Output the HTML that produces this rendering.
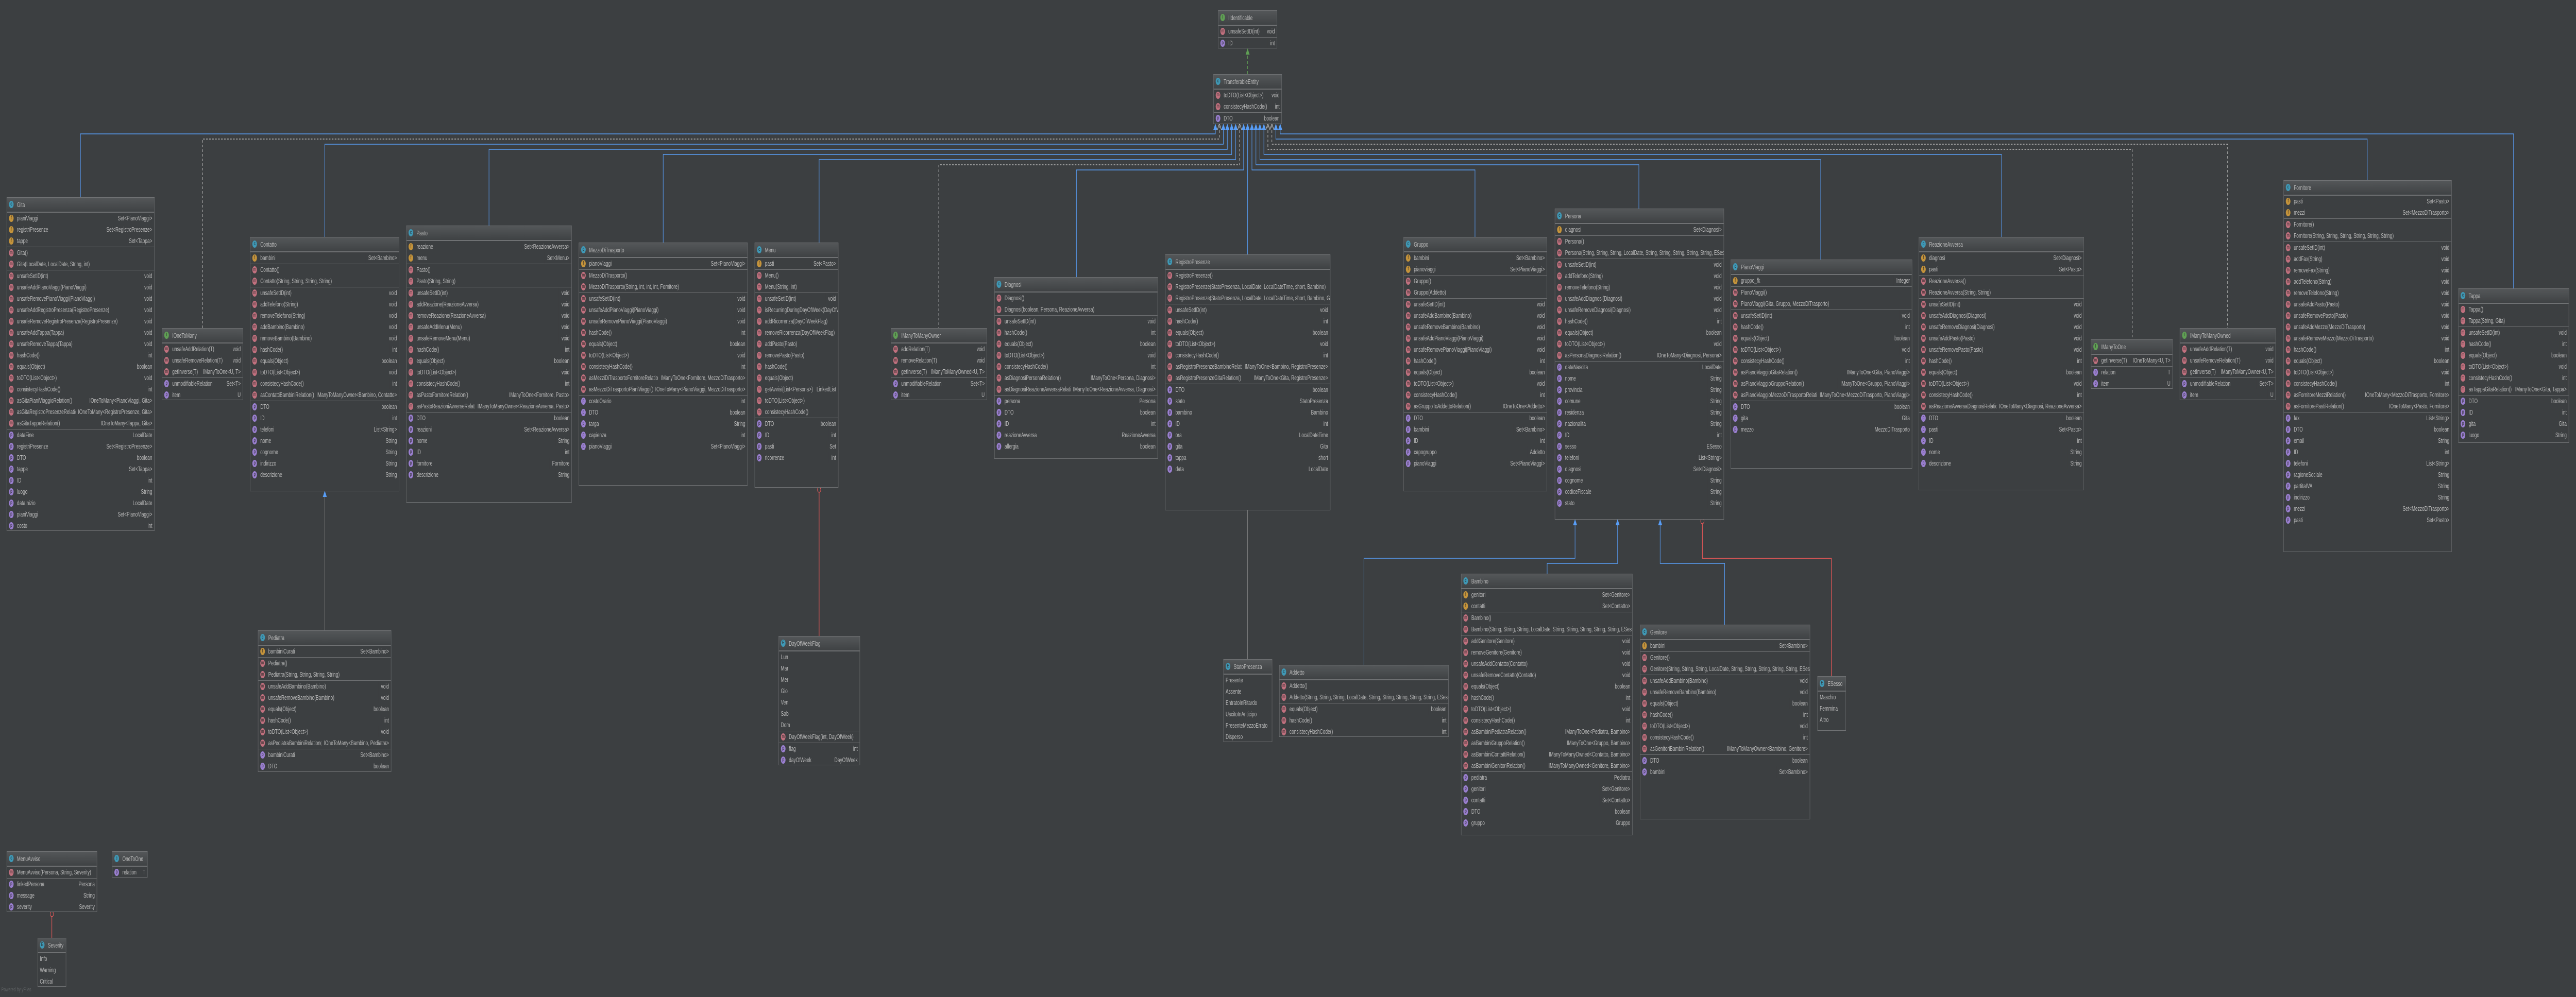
<!DOCTYPE html>
<html><head><meta charset="utf-8"><style>
html,body{margin:0;padding:0;overflow:hidden;background:#3c3f41}
body{width:100vw;height:100vh;position:relative;font:13px "Liberation Sans",sans-serif;color:#b9b9b9}
#w{position:absolute;left:0;top:0;width:7749px;height:1936px;transform-origin:0 0;background:#3c3f41}
.b{position:absolute;border:1px solid #6f7173;background:#3c3f41;overflow:hidden;box-sizing:border-box}
.h{height:27px;line-height:27px;background:linear-gradient(#545759,#3f4244);border-bottom:1px solid #6f7173;padding-left:6px;white-space:nowrap;overflow:hidden}
.s{border-top:1px solid #6f7173}
.s:first-of-type{border-top:none}
p{margin:0;height:22px;line-height:22px;padding:0 6px;white-space:nowrap;overflow:hidden;position:relative}
b{position:absolute;right:6px;top:0;padding-left:8px;font-weight:normal;background:#3c3f41}
i{display:inline-block;vertical-align:top;width:14px;height:14px;border-radius:50%;margin:4px 10px 0 0;font-style:normal;font-size:10px;line-height:14px;text-align:center;color:#2b2b2b}
.h i{margin-top:6px}
i.f{background:#c4933b}i.m{background:#c0707e}i.p{background:#9a7fd0}i.c{background:#3f98b5}i.n{background:#5f9e54}i.e{background:#3f98b5}
svg{position:absolute;left:0;top:0}
.pw{position:absolute;left:4px;top:1916px;font-size:11px;color:#5d6062;white-space:nowrap}
</style></head><body><div id="w">
<svg width="7749" height="1936" viewBox="0 0 7749 1936">
<g fill="none" stroke="#589df6" stroke-width="1.5">
<path d="M3656 252V260H242V383"/><path d="M3680 252V280H977V460"/><path d="M3692 252V290H1471V438"/><path d="M3705 252V300H1995V471"/><path d="M3717 252V310H2464V471"/><path d="M3741 252V330H3238V538"/><path d="M3753 252V494"/>
<path d="M3766 252V330H4437V460"/><path d="M3778 252V320H4930V405"/><path d="M3790 252V310H5477V504"/><path d="M3802 252V300H6021V460"/><path d="M3838 252V270H7121V350"/><path d="M3851 252V260H7561V560"/>
<path d="M4738 1020V1084H4103V1291"/><path d="M4866 1020V1094H4654V1114"/><path d="M4994 1020V1094H5188V1213"/>
</g>
<g fill="none" stroke="#bbbbbb" stroke-width="1.5" stroke-dasharray="5 4">
<path d="M3668 244V270H609V637"/><path d="M3729 244V320H2824V637"/><path d="M3814 244V290H6414V659"/><path d="M3826 244V280H6701V637"/>
</g>
<path d="M3753 144V100" stroke="#5f9e54" stroke-width="1.5" stroke-dasharray="6 4" fill="none"/>
<polygon points="3747,106 3753,94 3759,106" fill="#5f9e54"/>
<g fill="#589df6">
<polygon points="3650,252 3656,240 3662,252"/><polygon points="3674,252 3680,240 3686,252"/><polygon points="3686,252 3692,240 3698,252"/><polygon points="3699,252 3705,240 3711,252"/><polygon points="3711,252 3717,240 3723,252"/><polygon points="3735,252 3741,240 3747,252"/><polygon points="3747,252 3753,240 3759,252"/><polygon points="3760,252 3766,240 3772,252"/><polygon points="3772,252 3778,240 3784,252"/><polygon points="3784,252 3790,240 3796,252"/><polygon points="3796,252 3802,240 3808,252"/><polygon points="3832,252 3838,240 3844,252"/><polygon points="3845,252 3851,240 3857,252"/>
<polygon points="4732,1020 4738,1008 4744,1020"/><polygon points="4860,1020 4866,1008 4872,1020"/><polygon points="4988,1020 4994,1008 5000,1020"/><polygon points="971,965 977,953 983,965"/>
</g>
<g fill="none" stroke="#bbbbbb" stroke-width="1.5">
<polyline points="3662,252 3668,240 3674,252"/><polyline points="3723,252 3729,240 3735,252"/><polyline points="3808,252 3814,240 3820,252"/><polyline points="3820,252 3826,240 3832,252"/>
</g>
<g fill="none" stroke="#8c8c8c" stroke-width="1.2"><path d="M977 965V1224"/><path d="M3753 990V1280"/></g>
<g fill="none" stroke="#ff5b5b" stroke-width="1.5"><path d="M5121 1014V1084H5509V1313"/><path d="M2464 954V1235"/><path d="M156 1776V1821"/></g>
<g fill="#3c3f41" stroke="#ff5b5b" stroke-width="1.2"><circle cx="5121" cy="1012" r="5"/><circle cx="2464" cy="951" r="5"/><circle cx="156" cy="1775" r="5"/></g>
</svg>

<div class="b" style="left:3664px;top:20px;width:178px;height:74px"><div class="h"><i class="n">I</i>IIdentificable</div><div class="s"><p><i class="m">m</i>unsafeSetID(int)<b>void</b></p></div><div class="s"><p><i class="p">p</i>ID<b>int</b></p></div></div>

<div class="b" style="left:3650px;top:144px;width:206px;height:97px"><div class="h"><i class="c">c</i>TransferableEntity</div><div class="s"><p><i class="m">m</i>toDTO(List&lt;Object&gt;)<b>void</b></p><p><i class="m">m</i>consistecyHashCode()<b>int</b></p></div><div class="s"><p><i class="p">p</i>DTO<b>boolean</b></p></div></div>

<div class="b" style="left:20px;top:383px;width:445px;height:648px"><div class="h"><i class="c">c</i>Gita</div>
<div class="s"><p><i class="f">f</i>pianiViaggi<b>Set&lt;PianoViaggi&gt;</b></p><p><i class="f">f</i>registriPresenze<b>Set&lt;RegistroPresenze&gt;</b></p><p><i class="f">f</i>tappe<b>Set&lt;Tappa&gt;</b></p></div>
<div class="s"><p><i class="m">m</i>Gita()</p><p><i class="m">m</i>Gita(LocalDate, LocalDate, String, int)</p></div>
<div class="s"><p><i class="m">m</i>unsafeSetID(int)<b>void</b></p><p><i class="m">m</i>unsafeAddPianoViaggi(PianoViaggi)<b>void</b></p><p><i class="m">m</i>unsafeRemovePianoViaggi(PianoViaggi)<b>void</b></p><p><i class="m">m</i>unsafeAddRegistroPresenza(RegistroPresenze)<b>void</b></p><p><i class="m">m</i>unsafeRemoveRegistroPresenza(RegistroPresenze)<b>void</b></p><p><i class="m">m</i>unsafeAddTappa(Tappa)<b>void</b></p><p><i class="m">m</i>unsafeRemoveTappa(Tappa)<b>void</b></p><p><i class="m">m</i>hashCode()<b>int</b></p><p><i class="m">m</i>equals(Object)<b>boolean</b></p><p><i class="m">m</i>toDTO(List&lt;Object&gt;)<b>void</b></p><p><i class="m">m</i>consistecyHashCode()<b>int</b></p><p><i class="m">m</i>asGitaPianiViaggioRelation()<b>IOneToMany&lt;PianoViaggi, Gita&gt;</b></p><p><i class="m">m</i>asGitaRegistroPresenzeRelation()<b>IOneToMany&lt;RegistroPresenze, Gita&gt;</b></p><p><i class="m">m</i>asGitaTappeRelation()<b>IOneToMany&lt;Tappa, Gita&gt;</b></p></div>
<div class="s"><p><i class="p">p</i>dataFine<b>LocalDate</b></p><p><i class="p">p</i>registriPresenze<b>Set&lt;RegistroPresenze&gt;</b></p><p><i class="p">p</i>DTO<b>boolean</b></p><p><i class="p">p</i>tappe<b>Set&lt;Tappa&gt;</b></p><p><i class="p">p</i>ID<b>int</b></p><p><i class="p">p</i>luogo<b>String</b></p><p><i class="p">p</i>dataInizio<b>LocalDate</b></p><p><i class="p">p</i>pianiViaggi<b>Set&lt;PianoViaggi&gt;</b></p><p><i class="p">p</i>costo<b>int</b></p></div></div>

<div class="b" style="left:487px;top:637px;width:244px;height:140px"><div class="h"><i class="n">I</i>IOneToMany</div><div class="s"><p><i class="m">m</i>unsafeAddRelation(T)<b>void</b></p><p><i class="m">m</i>unsafeRemoveRelation(T)<b>void</b></p><p><i class="m">m</i>getInverse(T)<b>IManyToOne&lt;U, T&gt;</b></p></div><div class="s"><p><i class="p">p</i>unmodifiableRelation<b>Set&lt;T&gt;</b></p><p><i class="p">p</i>item<b>U</b></p></div></div>

<div class="b" style="left:752px;top:460px;width:449px;height:494px"><div class="h"><i class="c">c</i>Contatto</div>
<div class="s"><p><i class="f">f</i>bambini<b>Set&lt;Bambino&gt;</b></p></div>
<div class="s"><p><i class="m">m</i>Contatto()</p><p><i class="m">m</i>Contatto(String, String, String, String)</p></div>
<div class="s"><p><i class="m">m</i>unsafeSetID(int)<b>void</b></p><p><i class="m">m</i>addTelefono(String)<b>void</b></p><p><i class="m">m</i>removeTelefono(String)<b>void</b></p><p><i class="m">m</i>addBambino(Bambino)<b>void</b></p><p><i class="m">m</i>removeBambino(Bambino)<b>void</b></p><p><i class="m">m</i>hashCode()<b>int</b></p><p><i class="m">m</i>equals(Object)<b>boolean</b></p><p><i class="m">m</i>toDTO(List&lt;Object&gt;)<b>void</b></p><p><i class="m">m</i>consistecyHashCode()<b>int</b></p><p><i class="m">m</i>asContattiBambiniRelation()<b>IManyToManyOwner&lt;Bambino, Contatto&gt;</b></p></div>
<div class="s"><p><i class="p">p</i>DTO<b>boolean</b></p><p><i class="p">p</i>ID<b>int</b></p><p><i class="p">p</i>telefoni<b>List&lt;String&gt;</b></p><p><i class="p">p</i>nome<b>String</b></p><p><i class="p">p</i>cognome<b>String</b></p><p><i class="p">p</i>indirizzo<b>String</b></p><p><i class="p">p</i>descrizione<b>String</b></p></div></div>

<div class="b" style="left:1222px;top:438px;width:498px;height:538px"><div class="h"><i class="c">c</i>Pasto</div>
<div class="s"><p><i class="f">f</i>reazione<b>Set&lt;ReazioneAvversa&gt;</b></p><p><i class="f">f</i>menu<b>Set&lt;Menu&gt;</b></p></div>
<div class="s"><p><i class="m">m</i>Pasto()</p><p><i class="m">m</i>Pasto(String, String)</p></div>
<div class="s"><p><i class="m">m</i>unsafeSetID(int)<b>void</b></p><p><i class="m">m</i>addReazione(ReazioneAvversa)<b>void</b></p><p><i class="m">m</i>removeReazione(ReazioneAvversa)<b>void</b></p><p><i class="m">m</i>unsafeAddMenu(Menu)<b>void</b></p><p><i class="m">m</i>unsafeRemoveMenu(Menu)<b>void</b></p><p><i class="m">m</i>hashCode()<b>int</b></p><p><i class="m">m</i>equals(Object)<b>boolean</b></p><p><i class="m">m</i>toDTO(List&lt;Object&gt;)<b>void</b></p><p><i class="m">m</i>consistecyHashCode()<b>int</b></p><p><i class="m">m</i>asPastoFornitoreRelation()<b>IManyToOne&lt;Fornitore, Pasto&gt;</b></p><p><i class="m">m</i>asPastoReazioniAvverseRelation()<b>IManyToManyOwner&lt;ReazioneAvversa, Pasto&gt;</b></p></div>
<div class="s"><p><i class="p">p</i>DTO<b>boolean</b></p><p><i class="p">p</i>reazioni<b>Set&lt;ReazioneAvversa&gt;</b></p><p><i class="p">p</i>nome<b>String</b></p><p><i class="p">p</i>ID<b>int</b></p><p><i class="p">p</i>fornitore<b>Fornitore</b></p><p><i class="p">p</i>descrizione<b>String</b></p></div></div>

<div class="b" style="left:1741px;top:471px;width:508px;height:472px"><div class="h"><i class="c">c</i>MezzoDiTrasporto</div>
<div class="s"><p><i class="f">f</i>pianoViaggi<b>Set&lt;PianoViaggi&gt;</b></p></div>
<div class="s"><p><i class="m">m</i>MezzoDiTrasporto()</p><p><i class="m">m</i>MezzoDiTrasporto(String, int, int, int, Fornitore)</p></div>
<div class="s"><p><i class="m">m</i>unsafeSetID(int)<b>void</b></p><p><i class="m">m</i>unsafeAddPianoViaggi(PianoViaggi)<b>void</b></p><p><i class="m">m</i>unsafeRemovePianoViaggi(PianoViaggi)<b>void</b></p><p><i class="m">m</i>hashCode()<b>int</b></p><p><i class="m">m</i>equals(Object)<b>boolean</b></p><p><i class="m">m</i>toDTO(List&lt;Object&gt;)<b>void</b></p><p><i class="m">m</i>consistecyHashCode()<b>int</b></p><p><i class="m">m</i>asMezziDiTrasportoFornitoreRelation()<b>IManyToOne&lt;Fornitore, MezzoDiTrasporto&gt;</b></p><p><i class="m">m</i>asMezzoDiTrasportoPianiViaggi()<b>IOneToMany&lt;PianoViaggi, MezzoDiTrasporto&gt;</b></p></div>
<div class="s"><p><i class="p">p</i>costoOrario<b>int</b></p><p><i class="p">p</i>DTO<b>boolean</b></p><p><i class="p">p</i>targa<b>String</b></p><p><i class="p">p</i>capienza<b>int</b></p><p><i class="p">p</i>pianoViaggi<b>Set&lt;PianoViaggi&gt;</b></p></div></div>

<div class="b" style="left:2270px;top:471px;width:252px;height:476px"><div class="h"><i class="c">c</i>Menu</div>
<div class="s"><p><i class="f">f</i>pasti<b>Set&lt;Pasto&gt;</b></p></div>
<div class="s"><p><i class="m">m</i>Menu()</p><p><i class="m">m</i>Menu(String, int)</p></div>
<div class="s"><p><i class="m">m</i>unsafeSetID(int)<b>void</b></p><p><i class="m">m</i>isRecurringDuringDayOfWeek(DayOfWeekFlag)</p><p><i class="m">m</i>addRicorrenza(DayOfWeekFlag)</p><p><i class="m">m</i>removeRicorrenza(DayOfWeekFlag)</p><p><i class="m">m</i>addPasto(Pasto)</p><p><i class="m">m</i>removePasto(Pasto)</p><p><i class="m">m</i>hashCode()</p><p><i class="m">m</i>equals(Object)</p><p><i class="m">m</i>getAvvisi(List&lt;Persona&gt;)<b>LinkedList</b></p><p><i class="m">m</i>toDTO(List&lt;Object&gt;)</p><p><i class="m">m</i>consistecyHashCode()</p></div>
<div class="s"><p><i class="p">p</i>DTO<b>boolean</b></p><p><i class="p">p</i>ID<b>int</b></p><p><i class="p">p</i>pasti<b>Set</b></p><p><i class="p">p</i>ricorrenze<b>int</b></p></div></div>

<div class="b" style="left:2680px;top:637px;width:289px;height:140px"><div class="h"><i class="n">I</i>IManyToManyOwner</div><div class="s"><p><i class="m">m</i>addRelation(T)<b>void</b></p><p><i class="m">m</i>removeRelation(T)<b>void</b></p><p><i class="m">m</i>getInverse(T)<b>IManyToManyOwned&lt;U, T&gt;</b></p></div><div class="s"><p><i class="p">p</i>unmodifiableRelation<b>Set&lt;T&gt;</b></p><p><i class="p">p</i>item<b>U</b></p></div></div>

<div class="b" style="left:2991px;top:538px;width:492px;height:353px"><div class="h"><i class="c">c</i>Diagnosi</div>
<div class="s"><p><i class="m">m</i>Diagnosi()</p><p><i class="m">m</i>Diagnosi(boolean, Persona, ReazioneAvversa)</p></div>
<div class="s"><p><i class="m">m</i>unsafeSetID(int)<b>void</b></p><p><i class="m">m</i>hashCode()<b>int</b></p><p><i class="m">m</i>equals(Object)<b>boolean</b></p><p><i class="m">m</i>toDTO(List&lt;Object&gt;)<b>void</b></p><p><i class="m">m</i>consistecyHashCode()<b>int</b></p><p><i class="m">m</i>asDiagnosiPersonaRelation()<b>IManyToOne&lt;Persona, Diagnosi&gt;</b></p><p><i class="m">m</i>asDiagnosiReazioneAvversaRelation()<b>IManyToOne&lt;ReazioneAvversa, Diagnosi&gt;</b></p></div>
<div class="s"><p><i class="p">p</i>persona<b>Persona</b></p><p><i class="p">p</i>DTO<b>boolean</b></p><p><i class="p">p</i>ID<b>int</b></p><p><i class="p">p</i>reazioneAvversa<b>ReazioneAvversa</b></p><p><i class="p">p</i>allergia<b>boolean</b></p></div></div>

<div class="b" style="left:3505px;top:494px;width:497px;height:497px"><div class="h"><i class="c">c</i>RegistroPresenze</div>
<div class="s"><p><i class="m">m</i>RegistroPresenze()</p><p><i class="m">m</i>RegistroPresenze(StatoPresenza, LocalDate, LocalDateTime, short, Bambino)</p><p><i class="m">m</i>RegistroPresenze(StatoPresenza, LocalDate, LocalDateTime, short, Bambino, Gita)</p></div>
<div class="s"><p><i class="m">m</i>unsafeSetID(int)<b>void</b></p><p><i class="m">m</i>hashCode()<b>int</b></p><p><i class="m">m</i>equals(Object)<b>boolean</b></p><p><i class="m">m</i>toDTO(List&lt;Object&gt;)<b>void</b></p><p><i class="m">m</i>consistecyHashCode()<b>int</b></p><p><i class="m">m</i>asRegistroPresenzeBambinoRelation()<b>IManyToOne&lt;Bambino, RegistroPresenze&gt;</b></p><p><i class="m">m</i>asRegistroPresenzeGitaRelation()<b>IManyToOne&lt;Gita, RegistroPresenze&gt;</b></p></div>
<div class="s"><p><i class="p">p</i>DTO<b>boolean</b></p><p><i class="p">p</i>stato<b>StatoPresenza</b></p><p><i class="p">p</i>bambino<b>Bambino</b></p><p><i class="p">p</i>ID<b>int</b></p><p><i class="p">p</i>ora<b>LocalDateTime</b></p><p><i class="p">p</i>gita<b>Gita</b></p><p><i class="p">p</i>tappa<b>short</b></p><p><i class="p">p</i>data<b>LocalDate</b></p></div></div>

<div class="b" style="left:4222px;top:460px;width:432px;height:494px"><div class="h"><i class="c">c</i>Gruppo</div>
<div class="s"><p><i class="f">f</i>bambini<b>Set&lt;Bambino&gt;</b></p><p><i class="f">f</i>pianoviaggi<b>Set&lt;PianoViaggi&gt;</b></p></div>
<div class="s"><p><i class="m">m</i>Gruppo()</p><p><i class="m">m</i>Gruppo(Addetto)</p></div>
<div class="s"><p><i class="m">m</i>unsafeSetID(int)<b>void</b></p><p><i class="m">m</i>unsafeAddBambino(Bambino)<b>void</b></p><p><i class="m">m</i>unsafeRemoveBambino(Bambino)<b>void</b></p><p><i class="m">m</i>unsafeAddPianoViaggi(PianoViaggi)<b>void</b></p><p><i class="m">m</i>unsafeRemovePianoViaggi(PianoViaggi)<b>void</b></p><p><i class="m">m</i>hashCode()<b>int</b></p><p><i class="m">m</i>equals(Object)<b>boolean</b></p><p><i class="m">m</i>toDTO(List&lt;Object&gt;)<b>void</b></p><p><i class="m">m</i>consistecyHashCode()<b>int</b></p><p><i class="m">m</i>asGruppoToAddettoRelation()<b>IOneToOne&lt;Addetto&gt;</b></p></div>
<div class="s"><p><i class="p">p</i>DTO<b>boolean</b></p><p><i class="p">p</i>bambini<b>Set&lt;Bambino&gt;</b></p><p><i class="p">p</i>ID<b>int</b></p><p><i class="p">p</i>capogruppo<b>Addetto</b></p><p><i class="p">p</i>pianoViaggi<b>Set&lt;PianoViaggi&gt;</b></p></div></div>

<div class="b" style="left:4677px;top:405px;width:509px;height:604px"><div class="h"><i class="c">c</i>Persona</div>
<div class="s"><p><i class="f">f</i>diagnosi<b>Set&lt;Diagnosi&gt;</b></p></div>
<div class="s"><p><i class="m">m</i>Persona()</p><p><i class="m">m</i>Persona(String, String, String, LocalDate, String, String, String, String, String, ESesso)</p></div>
<div class="s"><p><i class="m">m</i>unsafeSetID(int)<b>void</b></p><p><i class="m">m</i>addTelefono(String)<b>void</b></p><p><i class="m">m</i>removeTelefono(String)<b>void</b></p><p><i class="m">m</i>unsafeAddDiagnosi(Diagnosi)<b>void</b></p><p><i class="m">m</i>unsafeRemoveDiagnosi(Diagnosi)<b>void</b></p><p><i class="m">m</i>hashCode()<b>int</b></p><p><i class="m">m</i>equals(Object)<b>boolean</b></p><p><i class="m">m</i>toDTO(List&lt;Object&gt;)<b>void</b></p><p><i class="m">m</i>asPersonaDiagnosiRelation()<b>IOneToMany&lt;Diagnosi, Persona&gt;</b></p></div>
<div class="s"><p><i class="p">p</i>dataNascita<b>LocalDate</b></p><p><i class="p">p</i>nome<b>String</b></p><p><i class="p">p</i>provincia<b>String</b></p><p><i class="p">p</i>comune<b>String</b></p><p><i class="p">p</i>residenza<b>String</b></p><p><i class="p">p</i>nazionalita<b>String</b></p><p><i class="p">p</i>ID<b>int</b></p><p><i class="p">p</i>sesso<b>ESesso</b></p><p><i class="p">p</i>telefoni<b>List&lt;String&gt;</b></p><p><i class="p">p</i>diagnosi<b>Set&lt;Diagnosi&gt;</b></p><p><i class="p">p</i>cognome<b>String</b></p><p><i class="p">p</i>codiceFiscale<b>String</b></p><p><i class="p">p</i>stato<b>String</b></p></div></div>

<div class="b" style="left:5206px;top:504px;width:546px;height:406px"><div class="h"><i class="c">c</i>PianoViaggi</div>
<div class="s"><p><i class="f">f</i>gruppo_fk<b>Integer</b></p></div>
<div class="s"><p><i class="m">m</i>PianoViaggi()</p><p><i class="m">m</i>PianoViaggi(Gita, Gruppo, MezzoDiTrasporto)</p></div>
<div class="s"><p><i class="m">m</i>unsafeSetID(int)<b>void</b></p><p><i class="m">m</i>hashCode()<b>int</b></p><p><i class="m">m</i>equals(Object)<b>boolean</b></p><p><i class="m">m</i>toDTO(List&lt;Object&gt;)<b>void</b></p><p><i class="m">m</i>consistecyHashCode()<b>int</b></p><p><i class="m">m</i>asPianoViaggioGitaRelation()<b>IManyToOne&lt;Gita, PianoViaggi&gt;</b></p><p><i class="m">m</i>asPianoViaggioGruppoRelation()<b>IManyToOne&lt;Gruppo, PianoViaggi&gt;</b></p><p><i class="m">m</i>asPianoViaggioMezzoDiTrasportoRelation()<b>IManyToOne&lt;MezzoDiTrasporto, PianoViaggi&gt;</b></p></div>
<div class="s"><p><i class="p">p</i>DTO<b>boolean</b></p><p><i class="p">p</i>gita<b>Gita</b></p><p><i class="p">p</i>mezzo<b>MezzoDiTrasporto</b></p></div></div>

<div class="b" style="left:5772px;top:460px;width:497px;height:492px"><div class="h"><i class="c">c</i>ReazioneAvversa</div>
<div class="s"><p><i class="f">f</i>diagnosi<b>Set&lt;Diagnosi&gt;</b></p><p><i class="f">f</i>pasti<b>Set&lt;Pasto&gt;</b></p></div>
<div class="s"><p><i class="m">m</i>ReazioneAvversa()</p><p><i class="m">m</i>ReazioneAvversa(String, String)</p></div>
<div class="s"><p><i class="m">m</i>unsafeSetID(int)<b>void</b></p><p><i class="m">m</i>unsafeAddDiagnosi(Diagnosi)<b>void</b></p><p><i class="m">m</i>unsafeRemoveDiagnosi(Diagnosi)<b>void</b></p><p><i class="m">m</i>unsafeAddPasto(Pasto)<b>void</b></p><p><i class="m">m</i>unsafeRemovePasto(Pasto)<b>void</b></p><p><i class="m">m</i>hashCode()<b>int</b></p><p><i class="m">m</i>equals(Object)<b>boolean</b></p><p><i class="m">m</i>toDTO(List&lt;Object&gt;)<b>void</b></p><p><i class="m">m</i>consistecyHashCode()<b>int</b></p><p><i class="m">m</i>asReazioneAvversaDiagnosiRelation()<b>IOneToMany&lt;Diagnosi, ReazioneAvversa&gt;</b></p></div>
<div class="s"><p><i class="p">p</i>DTO<b>boolean</b></p><p><i class="p">p</i>pasti<b>Set&lt;Pasto&gt;</b></p><p><i class="p">p</i>ID<b>int</b></p><p><i class="p">p</i>nome<b>String</b></p><p><i class="p">p</i>descrizione<b>String</b></p></div></div>

<div class="b" style="left:6290px;top:659px;width:246px;height:96px"><div class="h"><i class="n">I</i>IManyToOne</div><div class="s"><p><i class="m">m</i>getInverse(T)<b>IOneToMany&lt;U, T&gt;</b></p></div><div class="s"><p><i class="p">p</i>relation<b>T</b></p><p><i class="p">p</i>item<b>U</b></p></div></div>

<div class="b" style="left:6557px;top:637px;width:289px;height:140px"><div class="h"><i class="n">I</i>IManyToManyOwned</div><div class="s"><p><i class="m">m</i>unsafeAddRelation(T)<b>void</b></p><p><i class="m">m</i>unsafeRemoveRelation(T)<b>void</b></p><p><i class="m">m</i>getInverse(T)<b>IManyToManyOwner&lt;U, T&gt;</b></p></div><div class="s"><p><i class="p">p</i>unmodifiableRelation<b>Set&lt;T&gt;</b></p><p><i class="p">p</i>item<b>U</b></p></div></div>

<div class="b" style="left:6869px;top:350px;width:506px;height:722px"><div class="h"><i class="c">c</i>Fornitore</div>
<div class="s"><p><i class="f">f</i>pasti<b>Set&lt;Pasto&gt;</b></p><p><i class="f">f</i>mezzi<b>Set&lt;MezzoDiTrasporto&gt;</b></p></div>
<div class="s"><p><i class="m">m</i>Fornitore()</p><p><i class="m">m</i>Fornitore(String, String, String, String, String, String)</p></div>
<div class="s"><p><i class="m">m</i>unsafeSetID(int)<b>void</b></p><p><i class="m">m</i>addFax(String)<b>void</b></p><p><i class="m">m</i>removeFax(String)<b>void</b></p><p><i class="m">m</i>addTelefono(String)<b>void</b></p><p><i class="m">m</i>removeTelefono(String)<b>void</b></p><p><i class="m">m</i>unsafeAddPasto(Pasto)<b>void</b></p><p><i class="m">m</i>unsafeRemovePasto(Pasto)<b>void</b></p><p><i class="m">m</i>unsafeAddMezzo(MezzoDiTrasporto)<b>void</b></p><p><i class="m">m</i>unsafeRemoveMezzo(MezzoDiTrasporto)<b>void</b></p><p><i class="m">m</i>hashCode()<b>int</b></p><p><i class="m">m</i>equals(Object)<b>boolean</b></p><p><i class="m">m</i>toDTO(List&lt;Object&gt;)<b>void</b></p><p><i class="m">m</i>consistecyHashCode()<b>int</b></p><p><i class="m">m</i>asFornitoreMezziRelation()<b>IOneToMany&lt;MezzoDiTrasporto, Fornitore&gt;</b></p><p><i class="m">m</i>asFornitorePastiRelation()<b>IOneToMany&lt;Pasto, Fornitore&gt;</b></p></div>
<div class="s"><p><i class="p">p</i>fax<b>List&lt;String&gt;</b></p><p><i class="p">p</i>DTO<b>boolean</b></p><p><i class="p">p</i>email<b>String</b></p><p><i class="p">p</i>ID<b>int</b></p><p><i class="p">p</i>telefoni<b>List&lt;String&gt;</b></p><p><i class="p">p</i>ragioneSociale<b>String</b></p><p><i class="p">p</i>partitaIVA<b>String</b></p><p><i class="p">p</i>indirizzo<b>String</b></p><p><i class="p">p</i>mezzi<b>Set&lt;MezzoDiTrasporto&gt;</b></p><p><i class="p">p</i>pasti<b>Set&lt;Pasto&gt;</b></p></div></div>

<div class="b" style="left:7395px;top:560px;width:333px;height:300px"><div class="h"><i class="c">c</i>Tappa</div>
<div class="s"><p><i class="m">m</i>Tappa()</p><p><i class="m">m</i>Tappa(String, Gita)</p></div>
<div class="s"><p><i class="m">m</i>unsafeSetID(int)<b>void</b></p><p><i class="m">m</i>hashCode()<b>int</b></p><p><i class="m">m</i>equals(Object)<b>boolean</b></p><p><i class="m">m</i>toDTO(List&lt;Object&gt;)<b>void</b></p><p><i class="m">m</i>consistecyHashCode()<b>int</b></p><p><i class="m">m</i>asTappaGitaRelation()<b>IManyToOne&lt;Gita, Tappa&gt;</b></p></div>
<div class="s"><p><i class="p">p</i>DTO<b>boolean</b></p><p><i class="p">p</i>ID<b>int</b></p><p><i class="p">p</i>gita<b>Gita</b></p><p><i class="p">p</i>luogo<b>String</b></p></div></div>

<div class="b" style="left:776px;top:1224px;width:401px;height:275px"><div class="h"><i class="c">c</i>Pediatra</div>
<div class="s"><p><i class="f">f</i>bambiniCurati<b>Set&lt;Bambino&gt;</b></p></div>
<div class="s"><p><i class="m">m</i>Pediatra()</p><p><i class="m">m</i>Pediatra(String, String, String, String)</p></div>
<div class="s"><p><i class="m">m</i>unsafeAddBambino(Bambino)<b>void</b></p><p><i class="m">m</i>unsafeRemoveBambino(Bambino)<b>void</b></p><p><i class="m">m</i>equals(Object)<b>boolean</b></p><p><i class="m">m</i>hashCode()<b>int</b></p><p><i class="m">m</i>toDTO(List&lt;Object&gt;)<b>void</b></p><p><i class="m">m</i>asPediatraBambiniRelation()<b>IOneToMany&lt;Bambino, Pediatra&gt;</b></p></div>
<div class="s"><p><i class="p">p</i>bambiniCurati<b>Set&lt;Bambino&gt;</b></p><p><i class="p">p</i>DTO<b>boolean</b></p></div></div>

<div class="b" style="left:2342px;top:1235px;width:245px;height:251px"><div class="h"><i class="e">E</i>DayOfWeekFlag</div>
<div class="s"><p>Lun</p><p>Mar</p><p>Mer</p><p>Gio</p><p>Ven</p><p>Sab</p><p>Dom</p></div>
<div class="s"><p><i class="m">m</i>DayOfWeekFlag(int, DayOfWeek)</p></div>
<div class="s"><p><i class="p">p</i>flag<b>int</b></p><p><i class="p">p</i>dayOfWeek<b>DayOfWeek</b></p></div></div>

<div class="b" style="left:3680px;top:1280px;width:147px;height:161px"><div class="h"><i class="e">E</i>StatoPresenza</div>
<div class="s"><p>Presente</p><p>Assente</p><p>EntratoInRitardo</p><p>UscitoInAnticipo</p><p>PresenteMezzoErrato</p><p>Disperso</p></div></div>

<div class="b" style="left:3848px;top:1291px;width:510px;height:140px"><div class="h"><i class="c">c</i>Addetto</div>
<div class="s"><p><i class="m">m</i>Addetto()</p><p><i class="m">m</i>Addetto(String, String, String, LocalDate, String, String, String, String, String, ESesso)</p></div>
<div class="s"><p><i class="m">m</i>equals(Object)<b>boolean</b></p><p><i class="m">m</i>hashCode()<b>int</b></p><p><i class="m">m</i>consistecyHashCode()<b>int</b></p></div></div>

<div class="b" style="left:4395px;top:1114px;width:516px;height:508px"><div class="h"><i class="c">c</i>Bambino</div>
<div class="s"><p><i class="f">f</i>genitori<b>Set&lt;Genitore&gt;</b></p><p><i class="f">f</i>contatti<b>Set&lt;Contatto&gt;</b></p></div>
<div class="s"><p><i class="m">m</i>Bambino()</p><p><i class="m">m</i>Bambino(String, String, String, LocalDate, String, String, String, String, String, ESesso)</p></div>
<div class="s"><p><i class="m">m</i>addGenitore(Genitore)<b>void</b></p><p><i class="m">m</i>removeGenitore(Genitore)<b>void</b></p><p><i class="m">m</i>unsafeAddContatto(Contatto)<b>void</b></p><p><i class="m">m</i>unsafeRemoveContatto(Contatto)<b>void</b></p><p><i class="m">m</i>equals(Object)<b>boolean</b></p><p><i class="m">m</i>hashCode()<b>int</b></p><p><i class="m">m</i>toDTO(List&lt;Object&gt;)<b>void</b></p><p><i class="m">m</i>consistecyHashCode()<b>int</b></p><p><i class="m">m</i>asBambiniPediatraRelation()<b>IManyToOne&lt;Pediatra, Bambino&gt;</b></p><p><i class="m">m</i>asBambiniGruppoRelation()<b>IManyToOne&lt;Gruppo, Bambino&gt;</b></p><p><i class="m">m</i>asBambiniContattiRelation()<b>IManyToManyOwned&lt;Contatto, Bambino&gt;</b></p><p><i class="m">m</i>asBambiniGenitoriRelation()<b>IManyToManyOwned&lt;Genitore, Bambino&gt;</b></p></div>
<div class="s"><p><i class="p">p</i>pediatra<b>Pediatra</b></p><p><i class="p">p</i>genitori<b>Set&lt;Genitore&gt;</b></p><p><i class="p">p</i>contatti<b>Set&lt;Contatto&gt;</b></p><p><i class="p">p</i>DTO<b>boolean</b></p><p><i class="p">p</i>gruppo<b>Gruppo</b></p></div></div>

<div class="b" style="left:4933px;top:1213px;width:512px;height:378px"><div class="h"><i class="c">c</i>Genitore</div>
<div class="s"><p><i class="f">f</i>bambini<b>Set&lt;Bambino&gt;</b></p></div>
<div class="s"><p><i class="m">m</i>Genitore()</p><p><i class="m">m</i>Genitore(String, String, String, LocalDate, String, String, String, String, String, ESesso)</p></div>
<div class="s"><p><i class="m">m</i>unsafeAddBambino(Bambino)<b>void</b></p><p><i class="m">m</i>unsafeRemoveBambino(Bambino)<b>void</b></p><p><i class="m">m</i>equals(Object)<b>boolean</b></p><p><i class="m">m</i>hashCode()<b>int</b></p><p><i class="m">m</i>toDTO(List&lt;Object&gt;)<b>void</b></p><p><i class="m">m</i>consistecyHashCode()<b>int</b></p><p><i class="m">m</i>asGenitoriBambiniRelation()<b>IManyToManyOwner&lt;Bambino, Genitore&gt;</b></p></div>
<div class="s"><p><i class="p">p</i>DTO<b>boolean</b></p><p><i class="p">p</i>bambini<b>Set&lt;Bambino&gt;</b></p></div></div>

<div class="b" style="left:5467px;top:1313px;width:86px;height:106px"><div class="h"><i class="e">E</i>ESesso</div>
<div class="s"><p>Maschio</p><p>Femmina</p><p>Altro</p></div></div>

<div class="b" style="left:20px;top:1653px;width:272px;height:118px"><div class="h"><i class="c">c</i>MenuAvviso</div>
<div class="s"><p><i class="m">m</i>MenuAvviso(Persona, String, Severity)</p></div>
<div class="s"><p><i class="p">p</i>linkedPersona<b>Persona</b></p><p><i class="p">p</i>message<b>String</b></p><p><i class="p">p</i>severity<b>Severity</b></p></div></div>

<div class="b" style="left:337px;top:1653px;width:107px;height:51px"><div class="h"><i class="c">c</i>OneToOne</div>
<div class="s"><p><i class="p">p</i>relation<b>T</b></p></div></div>

<div class="b" style="left:113px;top:1821px;width:86px;height:95px"><div class="h"><i class="e">E</i>Severity</div>
<div class="s"><p>Info</p><p>Warning</p><p>Critical</p></div></div>

<div class="pw">Powered by yFiles</div>
</div>
<script>
(function(){
function fit(){
var w=document.getElementById('w');
var vw=window.innerWidth||document.documentElement.clientWidth||7749;
var vh=window.innerHeight||document.documentElement.clientHeight||1936;
var sx=vw/7749, sy=vh/1936;
if(!(sx>0.2&&sx<2))sx=1;
if(!(sy>0.2&&sy<2))sy=1;
w.style.transform=(sx===1&&sy===1)?'none':'scale('+sx+','+sy+')';
}
fit();window.addEventListener('resize',fit);
})();
</script>
</body></html>
